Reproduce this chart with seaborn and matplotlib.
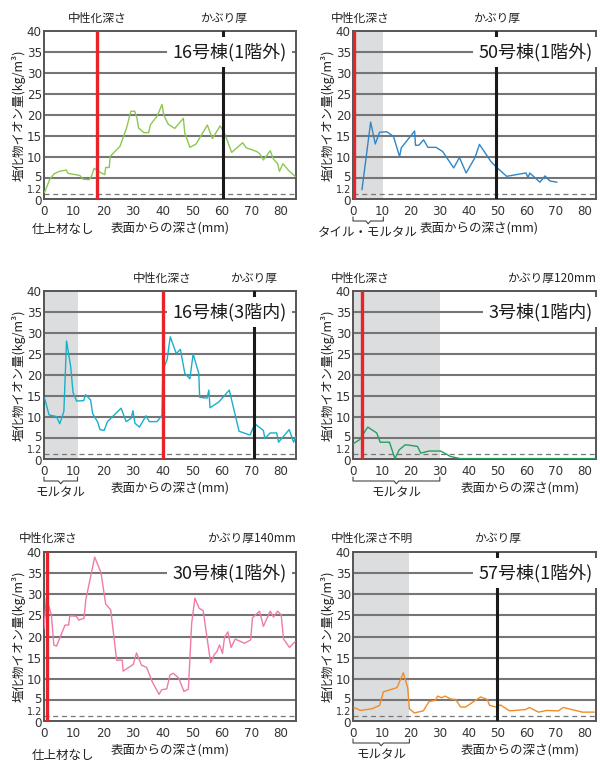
import matplotlib
matplotlib.use("Agg")
import matplotlib.pyplot as plt
import matplotlib.transforms as mtransforms
import seaborn as sns
import pandas as pd
import numpy as np

# 16号棟(1階外)
d_16_1out = [0.2, 1.9, 3.4, 5.3, 7.5, 8.1, 12.1, 13.2, 15.2, 16.0, 16.9, 18.8, 20.5, 20.8, 22.0,
             22.3, 23.9, 25.6, 27.8, 29.3, 30.6, 31.4, 31.9, 33.7, 35.3, 35.9, 38.2, 39.8, 40.4,
             41.9, 44.1, 47.0, 47.5, 49.2, 51.3, 55.1, 56.8, 59.4, 60.7, 63.3, 67.0, 68.2, 71.8,
             72.7, 74.0, 76.3, 77.4, 78.8, 79.4, 80.6, 82.5, 84.7]
c_16_1out = [1.6, 4.6, 6.0, 6.6, 6.9, 6.1, 5.6, 4.7, 4.6, 5.4, 7.3, 6.4, 5.8, 7.5, 7.5,
             10.1, 11.3, 12.5, 16.8, 20.9, 20.9, 19.1, 16.9, 15.8, 15.8, 17.7, 19.8, 22.5, 20.0,
             17.8, 16.8, 19.2, 15.7, 12.3, 13.1, 17.6, 14.4, 17.4, 16.0, 11.1, 13.4, 12.2, 11.3,
             10.8, 9.3, 11.5, 9.5, 8.4, 6.6, 8.4, 6.8, 5.4]

# 50号棟(1階外)
d_50_1out = [3.1, 6.1, 7.7, 9.2, 11.7, 14.0, 16.1, 16.7, 21.3, 21.6, 22.8, 24.4, 25.9, 28.7,
             31.0, 34.8, 36.8, 39.1, 42.2, 43.7, 47.7, 49.4, 53.1, 59.8, 60.5, 61.1, 64.6,
             66.4, 68.0, 70.5]
c_50_1out = [2.2, 18.3, 13.1, 15.9, 16.0, 14.9, 10.1, 12.2, 16.2, 12.8, 12.8, 14.1, 12.3, 12.3,
             11.3, 7.4, 9.9, 6.2, 9.9, 13.0, 8.9, 7.7, 5.4, 6.2, 5.1, 6.2, 4.0,
             5.5, 4.3, 4.0]

# 16号棟(3階内)
d_16_3in = [0.2, 1.7, 4.2, 5.3, 6.7, 7.6, 9.0, 9.8, 11.0, 13.4, 14.0, 15.7, 16.4, 18.1, 18.9,
            20.3, 21.4, 26.0, 27.7, 29.4, 30.0, 30.7, 32.2, 34.4, 35.5, 38.1, 39.8, 40.1, 41.5,
            42.6, 44.6, 46.0, 47.5, 49.2, 50.3, 52.2, 52.5, 55.0, 55.6, 56.0, 59.0, 62.5, 65.8,
            69.5, 71.1, 74.0, 74.5, 76.3, 78.5, 79.1, 82.7, 84.2, 85.0]
c_16_3in = [14.5, 10.5, 10.1, 8.4, 11.3, 28.1, 22.0, 15.8, 13.8, 13.9, 15.3, 14.1, 10.8, 8.8, 7.0,
            6.8, 8.9, 12.1, 8.9, 9.7, 11.5, 8.5, 7.6, 10.3, 8.9, 8.9, 10.4, 21.2, 23.6,
            29.1, 25.1, 26.1, 20.4, 19.1, 25.0, 20.4, 14.7, 14.5, 16.4, 12.2, 13.6, 16.4, 6.6,
            5.7, 8.4, 6.8, 4.9, 6.2, 6.2, 4.0, 7.0, 4.0, 5.4]

# 3号棟(1階内)
d_3_1in = [0.0, 2.3, 5.1, 8.2, 9.4, 12.6, 14.5, 16.0, 18.1, 22.3, 23.4, 26.3, 30.3, 33.7,
           37.1, 50.0, 60.0, 70.0, 84.0]
c_3_1in = [3.6, 4.6, 7.6, 6.2, 4.0, 4.0, 0.1, 2.2, 3.4, 3.0, 1.4, 1.9, 1.9, 0.6,
           0.1, 0.1, 0.1, 0.1, 0.1]

# 30号棟(1階外)
d_30_1out = [0.0, 0.8, 2.5, 3.3, 4.2, 7.1, 8.3, 8.7, 10.9, 11.7, 13.5, 14.1, 17.1, 19.2, 20.8,
             22.5, 24.5, 26.4, 26.7, 30.1, 31.2, 32.9, 34.6, 36.5, 38.8, 39.7, 41.4, 42.5, 43.6,
             45.5, 47.2, 48.7, 49.8, 50.9, 52.3, 53.7, 56.2, 57.5, 58.3, 59.2, 60.2, 60.9, 62.0,
             63.1, 64.5, 67.6, 69.7, 70.3, 72.7, 74.0, 76.3, 77.4, 78.8, 80.0, 80.8, 82.8, 84.7]
c_30_1out = [21.9, 29.1, 25.1, 18.0, 17.7, 22.7, 22.7, 24.9, 24.8, 23.9, 24.3, 28.7, 38.8, 35.2, 27.7,
             26.3, 14.4, 14.4, 11.8, 13.4, 16.1, 13.2, 12.7, 9.3, 6.3, 7.4, 7.6, 10.9, 11.3,
             10.1, 7.0, 7.5, 23.1, 29.1, 26.7, 26.1, 13.8, 15.8, 16.4, 18.0, 16.0, 19.8, 21.1,
             17.4, 19.4, 18.4, 19.2, 24.4, 26.0, 22.4, 26.0, 24.6, 26.0, 25.1, 19.4, 17.4, 18.8]

# 57号棟(1階外)
d_57_1out = [0.3, 2.6, 6.6, 9.2, 10.5, 15.2, 17.4, 18.9, 19.5, 21.2, 24.3, 26.3, 28.6, 29.2,
             30.7, 31.8, 33.8, 35.5, 37.2, 38.9, 44.1, 46.4, 47.2, 49.5, 51.0, 54.1, 59.6,
             61.0, 64.1, 67.0, 71.0, 72.7, 79.3, 83.4]
c_57_1out = [3.2, 2.5, 2.9, 3.7, 6.9, 7.9, 11.4, 7.9, 2.9, 1.9, 2.4, 4.6, 4.9, 5.9,
             5.5, 5.9, 5.2, 5.1, 3.3, 3.3, 5.7, 5.1, 3.7, 3.3, 3.8, 2.4, 2.7,
             3.2, 2.1, 2.5, 2.4, 3.2, 2.1, 2.1]

depths = [d_16_1out, d_50_1out, d_16_3in, d_3_1in, d_30_1out, d_57_1out]
values = [c_16_1out, c_50_1out, c_16_3in, c_3_1in, c_30_1out, c_57_1out]
titles = ["16号棟(1階外)", "50号棟(1階外)", "16号棟(3階内)",
          "3号棟(1階内)", "30号棟(1階外)", "57号棟(1階外)"]
colors = ["#8cc850", "#2f86c8", "#18b0c8", "#22a060", "#f07aa8", "#f08c28"]
neutral_depth = [18.0, 0.25, 40.0, 3.2, 1.0, None]
cover_depth = [60.5, 49.5, 70.8, None, None, 49.8]
neutral_text = ["中性化深さ", "中性化深さ", "中性化深さ", "中性化深さ", "中性化深さ", "中性化深さ不明"]
cover_text = ["かぶり厚", "かぶり厚", "かぶり厚", "かぶり厚120mm", "かぶり厚140mm", "かぶり厚"]
finish_width = [0, 10.5, 11.3, 30.0, 0, 19.5]
finish_text = ["仕上材なし", "タイル・モルタル", "モルタル", "モルタル", "仕上材なし", "モルタル"]
y_ticks = [0, 1.2, 5, 10, 15, 20, 25, 30, 35, 40]
y_ticklabels = ["0", "1.2", "5", "10", "15", "20", "25", "30", "35", "40"]
x_ticks = [0, 10, 20, 30, 40, 50, 60, 70, 80]
threshold = 1.2

sns.set_theme(style="white")
plt.rcParams['font.family'] = ['Noto Sans CJK JP', 'DejaVu Sans']
plt.rcParams['axes.unicode_minus'] = False

fig = plt.figure(figsize=(6, 7.6), dpi=100)
W, H = 600.0, 760.0
# axes boxes in pixels: left, top, right, bottom
boxes = [(44, 31, 296, 199), (353, 31, 596, 199),
         (44, 291, 296, 459), (353, 291, 596, 459),
         (44, 552, 296, 721), (353, 552, 596, 721)]
xmax = [85, 84, 85, 84, 85, 84]
tick_font = dict(family="DejaVu Sans", size=8.6)


def shift(lab, dy_pt):
    lab.set_transform(lab.get_transform() +
                      mtransforms.ScaledTranslation(0, dy_pt / 72, fig.dpi_scale_trans))


for i in range(6):
    l, t, r, b = boxes[i]
    ax = fig.add_axes([l / W, 1 - b / H, (r - l) / W, (b - t) / H])
    ax.set_xlim(0, xmax[i])
    ax.set_ylim(0, 40)

    if finish_width[i] > 0:
        ax.axvspan(0, finish_width[i], color="#dcdddf", zorder=0, lw=0)
    for y in range(5, 40, 5):
        ax.axhline(y, color="#757575", lw=1.5, zorder=1)
    ax.axhline(threshold, color="#777777", lw=0.9, ls=(0, (4, 3)), zorder=1)

    df = pd.DataFrame({"depth": depths[i], "cl": values[i]})
    sns.lineplot(data=df, x="depth", y="cl", ax=ax, color=colors[i], lw=1.0,
                 zorder=3, estimator=None, sort=False)

    trans = ax.get_xaxis_transform()
    if neutral_depth[i] is not None:
        ax.axvline(neutral_depth[i], color="#e8242a", lw=2.4, zorder=4)
    if cover_depth[i] is not None:
        ax.axvline(cover_depth[i], color="#1a1a1a", lw=2.2, zorder=4)

    # labels above the frame
    ty = 1.075 if i < 4 else 1.08
    if neutral_depth[i] is not None and neutral_depth[i] > 10:
        ax.text(neutral_depth[i], ty, neutral_text[i], transform=trans, ha="center",
                va="center", fontsize=8.5, color="#222222")
    else:
        ax.text(-0.09 if i % 2 == 1 else -0.1, ty, neutral_text[i], transform=ax.transAxes,
                ha="left", va="center", fontsize=8.5, color="#222222")
    if cover_depth[i] is not None:
        ax.text(cover_depth[i], ty, cover_text[i], transform=trans, ha="center",
                va="center", fontsize=8.5, color="#222222")
    else:
        ax.text(1.0, ty, cover_text[i], transform=ax.transAxes, ha="right",
                va="center", fontsize=8.5, color="#222222")

    # building name box
    ax.text(0.962 if i % 2 == 0 else 0.985, 35, titles[i], transform=ax.get_yaxis_transform(),
            ha="right", va="center", fontsize=13, color="#1a1a1a", zorder=6,
            bbox=dict(boxstyle="square,pad=0.3", fc="white", ec="none"))

    ax.set_xticks(x_ticks)
    ax.set_xticklabels([str(x) for x in x_ticks], fontdict=tick_font)
    ax.set_yticks(y_ticks)
    ax.set_yticklabels(y_ticklabels, fontdict=tick_font)
    ax.tick_params(axis="both", length=0, colors="#333333")
    ax.tick_params(axis="x", pad=4)
    ax.tick_params(axis="y", pad=1.5)
    for lab in ax.get_yticklabels():
        txt = lab.get_text()
        if txt == "1.2":
            lab.set_va("bottom")
            lab.set_fontsize(7)
            shift(lab, -0.5)
        elif txt == "0":
            lab.set_va("top")
            shift(lab, 3)
        elif txt == "5":
            shift(lab, 1.3)
    for s in ax.spines.values():
        s.set_color("#555555")
        s.set_linewidth(1.4)
        s.set_zorder(2.5)

    ax.set_ylabel("塩化物イオン量(kg/m³)", fontsize=9, color="#222222", labelpad=1)
    ax.set_xlabel("")
    h = (b - t)
    if finish_width[i] > 0 and i in (3, 5):
        xl = 0.69
    else:
        xl = 0.5 if i % 2 == 0 else 0.52
    ax.text(xl, -29.0 / h, "表面からの深さ(mm)", transform=ax.transAxes, ha="center",
            va="center", fontsize=9, color="#222222")

    # finishing material notes under the axis
    if finish_width[i] > 0:
        by = -22.0 / h
        tk = 4.0 / h
        x0, x1 = 0.0, finish_width[i]
        xm = (x0 + x1) / 2
        ax.plot([x0, x0, xm - 0.8, xm, xm + 0.8, x1, x1],
                [by + tk, by, by, by - tk * 0.7, by, by, by + tk],
                transform=trans, color="#444444", lw=0.8, clip_on=False)
        ax.text(xm, -34.0 / h, finish_text[i], transform=trans, ha="center",
                va="center", fontsize=9, color="#222222")
    else:
        yy = -30.0 / h if i < 4 else -34.0 / h
        ax.text(-0.05, yy, finish_text[i], transform=ax.transAxes, ha="left",
                va="center", fontsize=9, color="#222222")

fig.savefig("out.png", dpi=100)
